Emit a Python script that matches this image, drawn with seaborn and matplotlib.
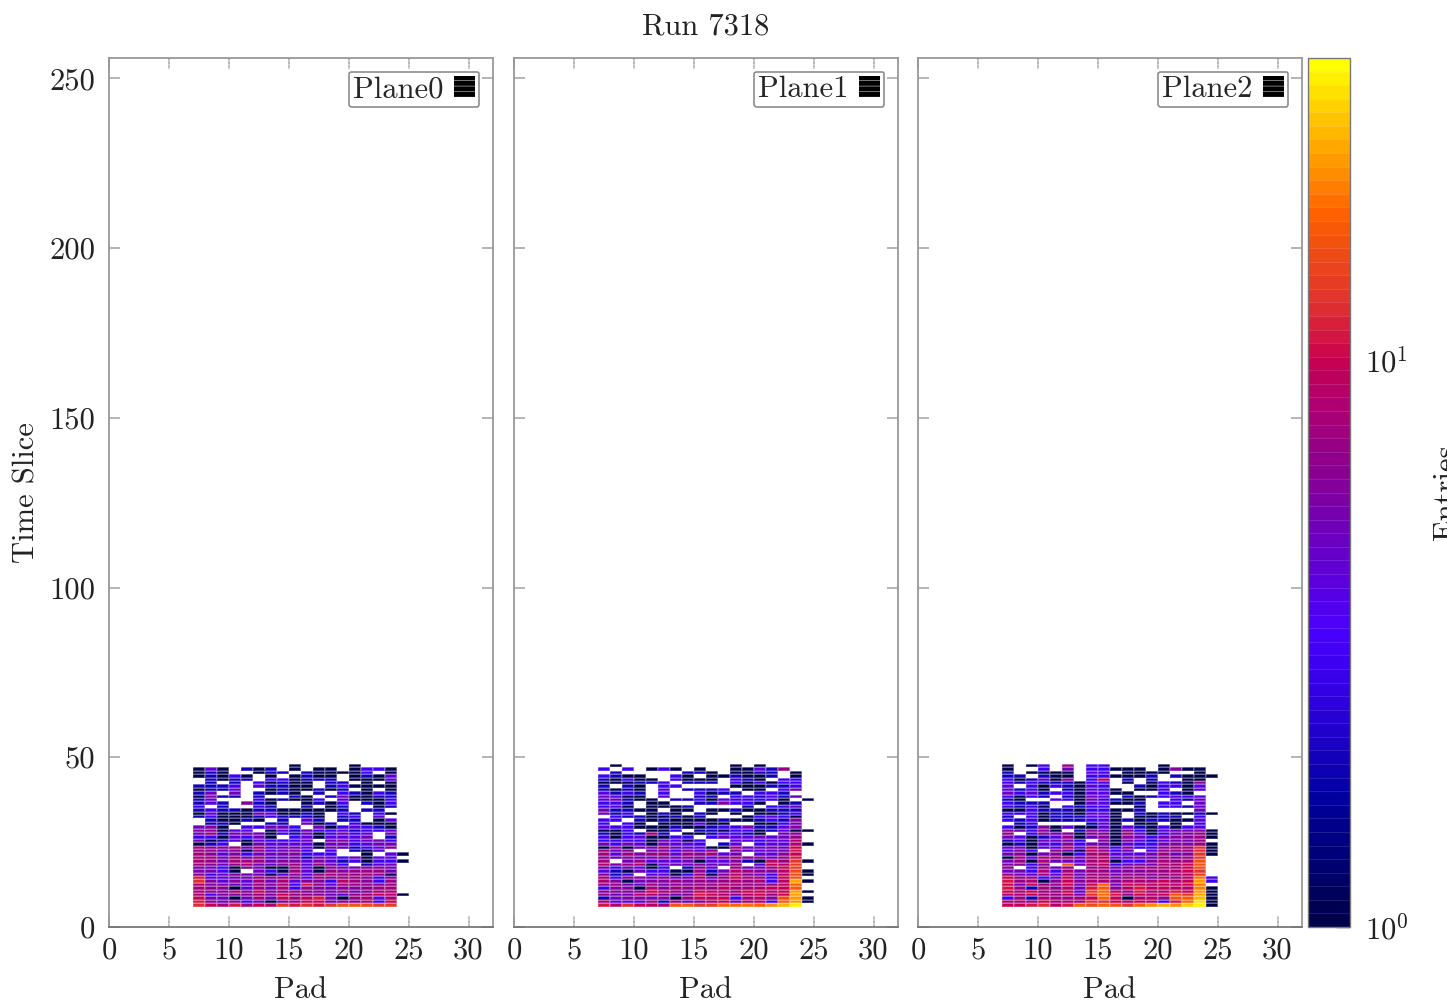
import matplotlib
matplotlib.use("Agg")
import matplotlib.pyplot as plt
import seaborn as sns
import pandas as pd
import numpy as np
from matplotlib.colors import LinearSegmentedColormap, LogNorm
from matplotlib.patches import Patch

# entries per cell. top row is time slice 47, bottom row 6,
# columns are pads 7..24. '.' is empty, otherwise a base 36 count
first_pad = 7
last_slice = 47

plane0 = [
    "........1....1....",
    "141.212.1.11.1331.",
    "121..122.211113.1.",
    "12131.1.1211.1214.",
    ".2122.331222.1114.",
    ".2.2.31211.22.1.1.",
    "2223.42211.231111.",
    "1224..1211212.1.1.",
    "25.5.2121.2.32132.",
    "1622.2..21.251122.",
    "24...312113.41113.",
    "242.621..1213.213.",
    "3.2..32..2.12..12.",
    "2322122111112.22..",
    "14111541121.32.31.",
    "23111232221.23.4..",
    ".21121.2.42.22.14.",
    ".221..22.512.3111.",
    "561.33553.5134321.",
    "66144.14253342334.",
    "572555132513534.5.",
    "3314351.3414445.2.",
    "5124143335.563553.",
    "123.1544441553455.",
    "76675745541552346.",
    "7756174563.3.214..",
    "864635556333..1.41",
    "87575745525435144.",
    "875887566464231331",
    "8657855674753.245.",
    "55316511741655665.",
    "6531.531741767775.",
    "63565514747877871.",
    "b4455767647677636.",
    "c6464858466397637.",
    "866557683b6487767.",
    "86614758376566678.",
    "87686a67766575788.",
    "8366676a7765477a91",
    "a551585a79b517848.",
    "b65635167aa56683a.",
    "ca8b8a9dbcbdggfee.",
]

plane1 = [
    ".1.........1.1....",
    "3.3.131.1..11427..",
    ".2.....221.1122.1.",
    "3211..31.112112.1.",
    "21311.3111.321.33.",
    "111223.222.313133.",
    "2.21.33....111223.",
    "2121.4.2223.11.35.",
    "4232.3..3122.332..",
    "5411.4..22.332425.",
    "45211.2231433331.1",
    "332.11..226331.12.",
    "341.1112....2.335.",
    "52211.11.11211222.",
    "523.121.21.1.1123.",
    ".32211212...13431.",
    "33.21211112112326.",
    "3.31.111411..1135.",
    "43311121123352246.",
    "113.113.2213312411",
    "213282.1123321.56.",
    "31341133.35445457.",
    "333315413..443448.",
    "535415443.24.34491",
    "1615575441175555a.",
    "756.563646.64455b.",
    "847677476845.446a.",
    "6565565664676657b.",
    "8.57444514462197d1",
    "967815556557.4a9e.",
    "535413.264.7557ae.",
    "4215331172597669f1",
    "623.441371696539f1",
    "83665655857a873ag.",
    "8615667676787839o1",
    "7755756677887779h.",
    "366186778797889ah.",
    "6666a876a997aa9am1",
    "75599656ba879a7am.",
    "25665617a9a3896fm1",
    "8444727568a5893hn1",
    "b9ca98gheeiijilpw.",
]

plane2 = [
    "1.13.7.33....1....",
    "1..3.5.33111.1611.",
    "2.1111.43.1111..1.",
    "22.211.331112.2111",
    "312416.39.2.2..11.",
    "323222133.1.13217.",
    "4.3132143..213314.",
    "4231.21431.113.14.",
    "53423314411..321..",
    "3132.2154.2123434.",
    "21..43153211..324.",
    "3222..144112.33.5.",
    "3231.3233..1.3324.",
    "113222133112....5.",
    "3331221441.2121121",
    "2.31222441.1122.3.",
    "32312223412122114.",
    ".23....241.11.1.3.",
    "31261411414213134.",
    "65361.265163145561",
    "7.3656166174135671",
    "541247156165356671",
    "2315553.616424557.",
    "121436355143356671",
    "4514484963633677c1",
    "463.7519735.4777c1",
    "5615613884445756d1",
    "1748775894555767d.",
    "5718554891336878g.",
    "6636.h589356588ag.",
    "6.3757.78567788af.",
    "553838577566778ad.",
    "7548485875766789e.",
    "a7735a5886786779j3",
    "b7816a6886888a8an3",
    "a5a77a5ah5aa999aj.",
    "b728695bh69b9a99k1",
    "a8a77a4ei97b98bam1",
    "98a8796cjb7a8agdo1",
    "3728777aia1897ghp1",
    "887a888cca8a93bit1",
    "aabc9bhfigdilolsw1",
]

planes = [plane0, plane1, plane2]
plane_names = ["Plane0", "Plane1", "Plane2"]
x_ticks = [0, 5, 10, 15, 20, 25, 30]
y_ticks = [0, 50, 100, 150, 200, 250]
n_pads = 32
n_slices = 256
z_max = 34


def to_frame(rows):
    grid = np.full((n_slices, n_pads), np.nan)
    for i, row in enumerate(rows):
        for j, ch in enumerate(row):
            if ch != ".":
                grid[last_slice - i, first_pad + j] = int(ch, 36)
    return pd.DataFrame(grid)


sns.set_theme(style="ticks")
plt.rcParams["font.family"] = ["cmr10", "DejaVu Serif"]
plt.rcParams["mathtext.fontset"] = "cm"
plt.rcParams["axes.formatter.use_mathtext"] = True
plt.rcParams["axes.unicode_minus"] = False
plt.rcParams["hatch.linewidth"] = 0.5

palette = LinearSegmentedColormap.from_list("entries", [
    (0.0, "#00004a"), (0.146, "#0000a0"), (0.26, "#3000e0"), (0.336, "#4800ff"),
    (0.445, "#6a00c0"), (0.526, "#8a0090"), (0.606, "#b00070"), (0.654, "#c80050"),
    (0.72, "#e03030"), (0.79, "#f05010"), (0.825, "#ff6000"), (0.894, "#ffa000"),
    (0.95, "#ffd000"), (1.0, "#ffff00"),
], N=64)
norm = LogNorm(vmin=1, vmax=z_max)

W, H = 1447, 1002
fig = plt.figure(figsize=(W / 100, H / 100), dpi=100)


def px_axes(x0, x1, y0, y1):
    return fig.add_axes([x0 / W, 1 - y1 / H, (x1 - x0) / W, (y1 - y0) / H])


lefts = [109, 514, 918]
axes = [px_axes(x, x + 383.5, 58, 927) for x in lefts]
cax = px_axes(1308, 1350, 58, 927)
grey = "#8c8c8c"
tick_grey = "#666666"
font_big = 22

for i, ax in enumerate(axes):
    sns.heatmap(
        to_frame(planes[i]), ax=ax, cmap=palette, norm=norm,
        linewidths=0.25, linecolor=(1, 1, 1, 0.22),
        xticklabels=False, yticklabels=False,
        cbar=(i == 2), cbar_ax=cax if i == 2 else None,
        cbar_kws={"drawedges": True} if i == 2 else None,
    )
    ax.set_xlim(0, n_pads)
    ax.set_ylim(0, n_slices)
    ax.set_xticks(x_ticks)
    ax.set_xticklabels([str(t) for t in x_ticks], rotation=0)
    ax.set_yticks(y_ticks)
    ax.set_yticklabels([str(t) for t in y_ticks] if i == 0 else [], rotation=0)
    ax.tick_params(axis="both", direction="in", top=True, right=True, length=8,
                   width=1.1, color=tick_grey, labelsize=font_big, labelcolor="#222222")
    ax.tick_params(axis="x", pad=7)
    ax.tick_params(axis="y", pad=10)
    for side, spine in ax.spines.items():
        spine.set_visible(True)
        spine.set_color("#999999" if side != "bottom" else "#777777")
        spine.set_linewidth(1.3)
    ax.set_xlabel("Pad", fontsize=font_big, labelpad=9, color="#222222")
    ax.set_ylabel("Time Slice" if i == 0 else "", fontsize=font_big, labelpad=6, color="#222222")
    swatch = Patch(facecolor="black", edgecolor="#aaaaaa", hatch="---", linewidth=0,
                   label=plane_names[i])
    leg = ax.legend(handles=[swatch], loc="upper right", bbox_to_anchor=(0.9648, 0.9839),
                    markerfirst=False, fontsize=font_big, handlelength=0.7, handleheight=0.72,
                    handletextpad=0.35, borderpad=0.12, borderaxespad=0, fancybox=True,
                    framealpha=1, edgecolor=grey)
    leg.get_frame().set_linewidth(1.2)
    leg.get_frame().set_boxstyle("round", pad=0, rounding_size=0.08)

cbar = axes[2].collections[0].colorbar
cbar.dividers.set_color("white")
cbar.dividers.set_alpha(0.12)
cbar.dividers.set_linewidth(0.8)
cbar.outline.set_visible(True)
cbar.outline.set_edgecolor("#777777")
cbar.outline.set_linewidth(1.0)
cbar.set_ticks([1, 10], labels=[r"$10^{0}$", r"$10^{1}$"])
cbar.minorticks_off()
cax.tick_params(direction="in", length=10, width=1.0, color="#333333", labelsize=font_big,
                labelcolor="#222222", pad=11)
cax.set_ylabel("Entries", fontsize=font_big, color="#222222", rotation=90)
cax.yaxis.set_label_coords((1433 - 1308) / 42, 0.5)

fig.text(706 / W, 1 - 27 / H, "Run 7318", ha="center", va="center", fontsize=font_big, color="#222222")

fig.savefig("out.png", dpi=100)
